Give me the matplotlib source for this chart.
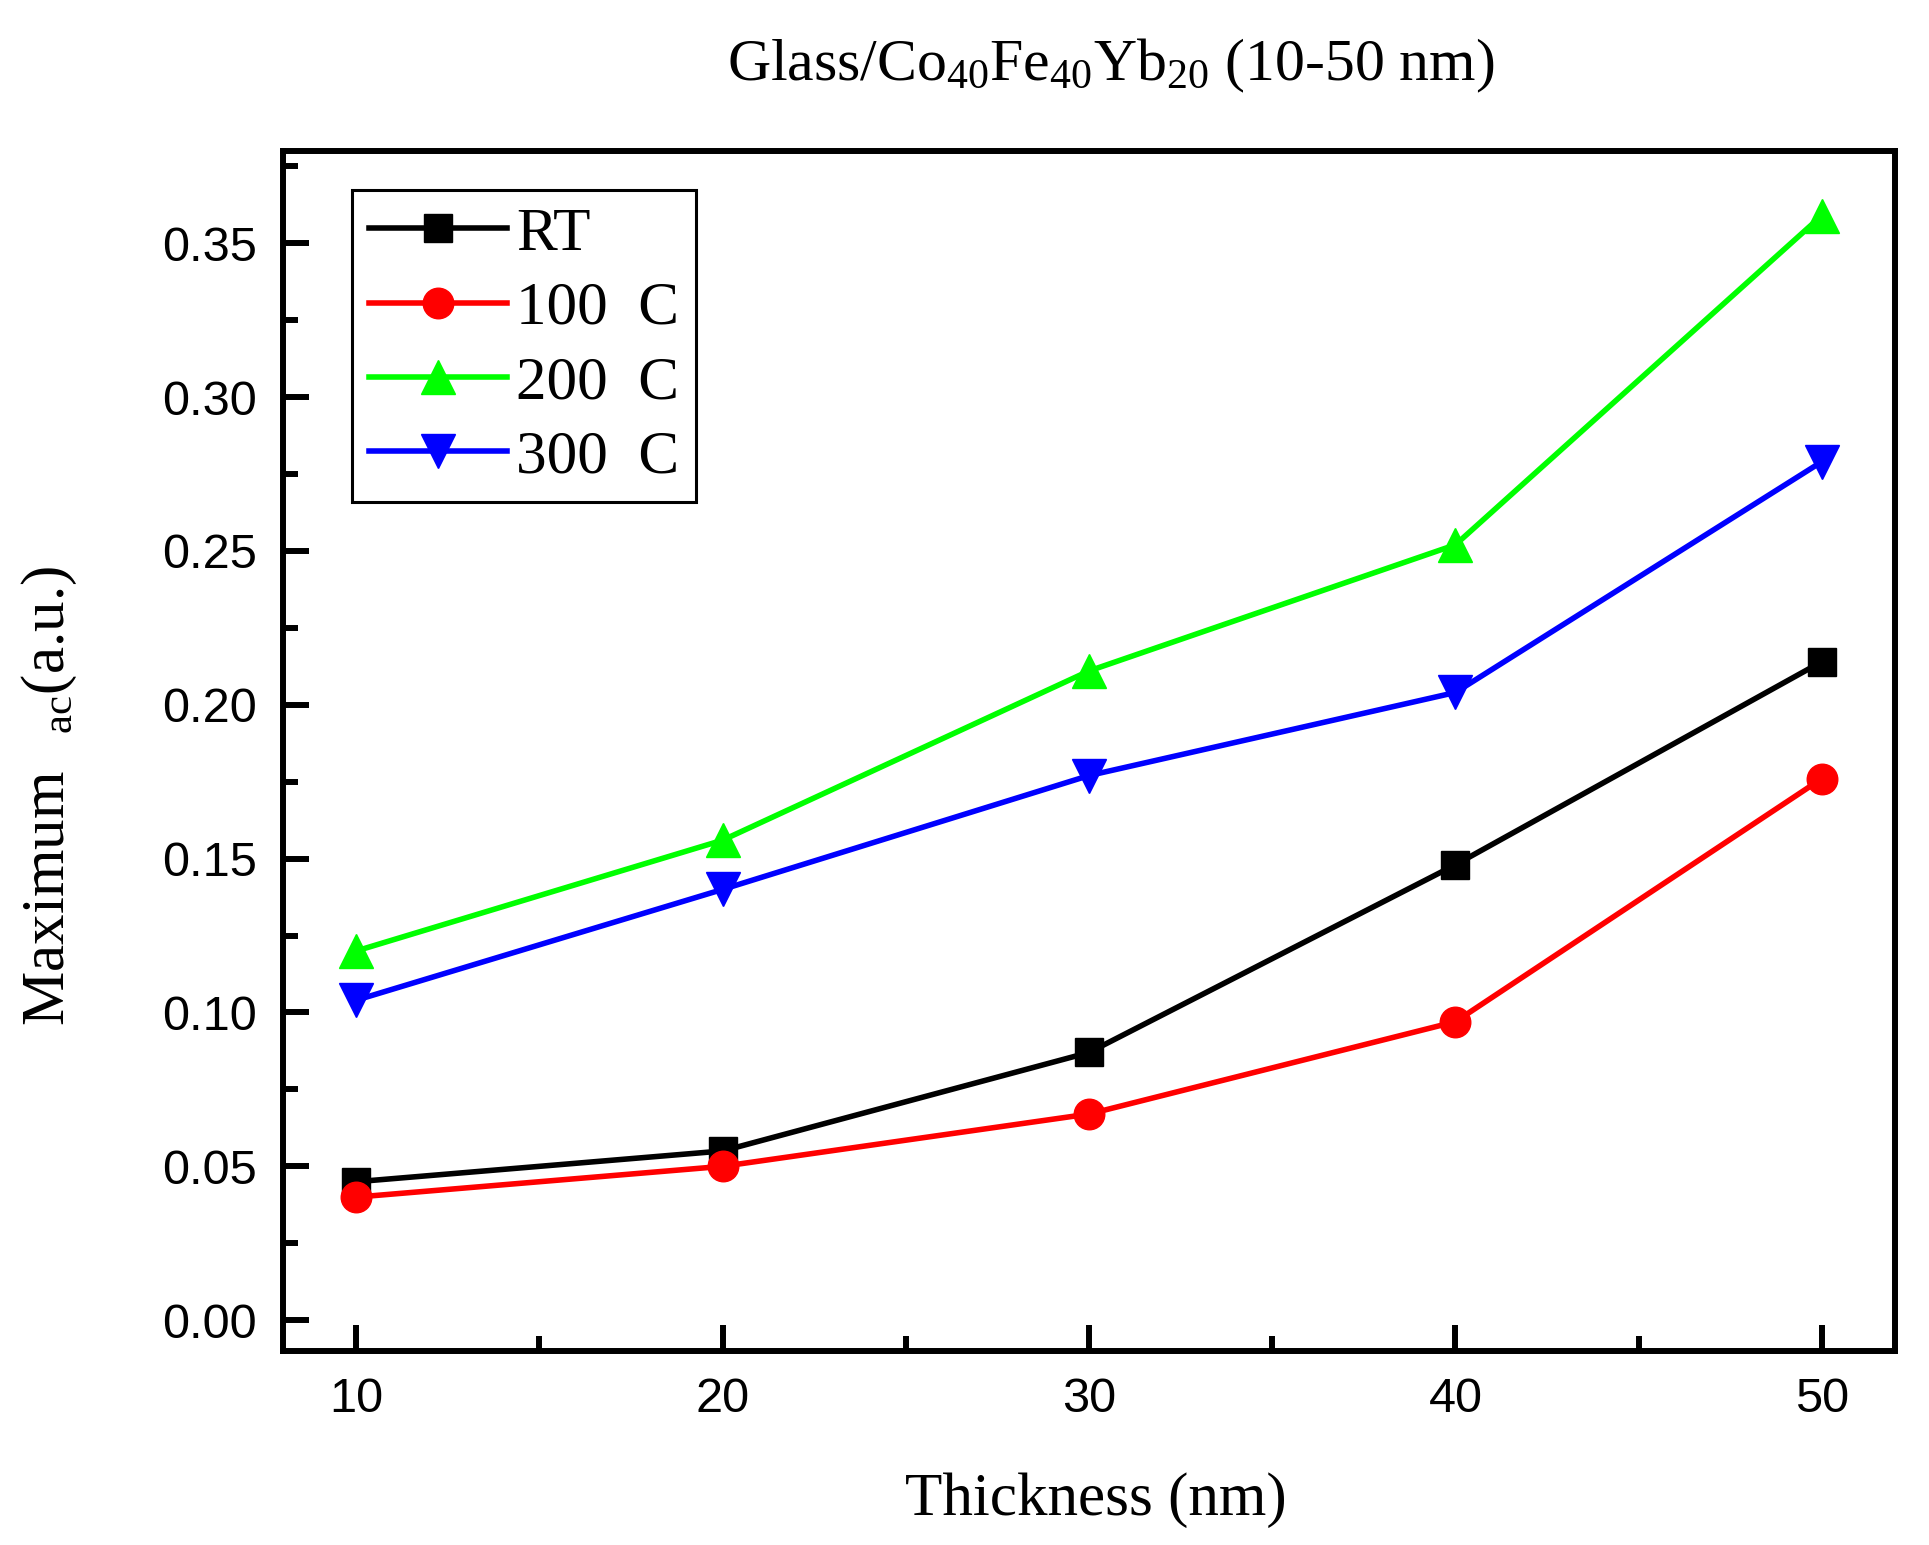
import matplotlib
matplotlib.use("Agg")
import matplotlib.pyplot as plt
from matplotlib.ticker import MultipleLocator

# thickness (nm) and maximum chi_ac (a.u.) for each anneal condition
thickness = [10, 20, 30, 40, 50]
rt = [0.045, 0.055, 0.087, 0.148, 0.214]
c100 = [0.040, 0.050, 0.067, 0.097, 0.176]
c200 = [0.120, 0.156, 0.211, 0.252, 0.359]
c300 = [0.104, 0.140, 0.177, 0.204, 0.279]

labels = ["RT", "100  C", "200  C", "300  C"]

plt.rcParams['mathtext.fontset'] = 'custom'
plt.rcParams['mathtext.rm'] = 'Liberation Serif'
plt.rcParams['mathtext.it'] = 'Liberation Serif:italic'

fig = plt.figure(figsize=(19.29, 15.45), dpi=100)
ax = fig.add_axes([0.1467, 0.1256, 0.8357, 0.7767])

ax.plot(thickness, rt, color='black', marker='s', ms=20, lw=4, label=labels[0])
ax.plot(thickness, c100, color='#ff0000', marker='o', ms=22, lw=4, label=labels[1])
ax.plot(thickness, c200, color='#00ff00', marker='^', ms=24, lw=4, label=labels[2])
ax.plot(thickness, c300, color='#0000ff', marker='v', ms=24, lw=4, label=labels[3])

ax.set_xlim(8, 52)
ax.set_ylim(-0.01, 0.38)
ax.xaxis.set_major_locator(MultipleLocator(10))
ax.xaxis.set_minor_locator(MultipleLocator(5))
ax.yaxis.set_major_locator(MultipleLocator(0.05))
ax.yaxis.set_minor_locator(MultipleLocator(0.025))
ax.yaxis.set_major_formatter(plt.FuncFormatter(lambda v, p: "%.2f" % v))

for s in ax.spines.values():
    s.set_linewidth(4.3)
ax.tick_params(which='both', direction='in', top=False, right=False, width=4.3)
ax.tick_params(which='major', length=18.5, pad=19)
ax.tick_params(which='minor', length=10.5)
for lab in ax.get_xticklabels() + ax.get_yticklabels():
    lab.set_fontfamily('Liberation Sans')
    lab.set_fontsize(35)

leg = ax.legend(loc='upper left', bbox_to_anchor=(0.0428, 0.9675), borderaxespad=0,
                prop={'family': 'Liberation Serif', 'size': 44},
                handlelength=2.25, handletextpad=0.15, labelspacing=0.3,
                borderpad=0.28, fancybox=False, framealpha=1, edgecolor='black')
leg.get_frame().set_linewidth(2.2)

fig.text(1111 / 1929, 1 - 66 / 1545, r'Glass/Co$_{40}$Fe$_{40}$Yb$_{20}$ (10-50 nm)',
         family='Liberation Serif', fontsize=43, ha='center', va='center')
fig.text(1096 / 1929, 1 - 1500 / 1545, 'Thickness (nm)',
         family='Liberation Serif', fontsize=44, ha='center', va='center')
fig.text(49 / 1929, 1 - 796 / 1545, r'Maximum $\enspace{}_{\mathrm{ac}}$(a.u.)',
         family='Liberation Serif', fontsize=44, ha='center', va='center', rotation=90)

fig.savefig('out.png', dpi=100)
